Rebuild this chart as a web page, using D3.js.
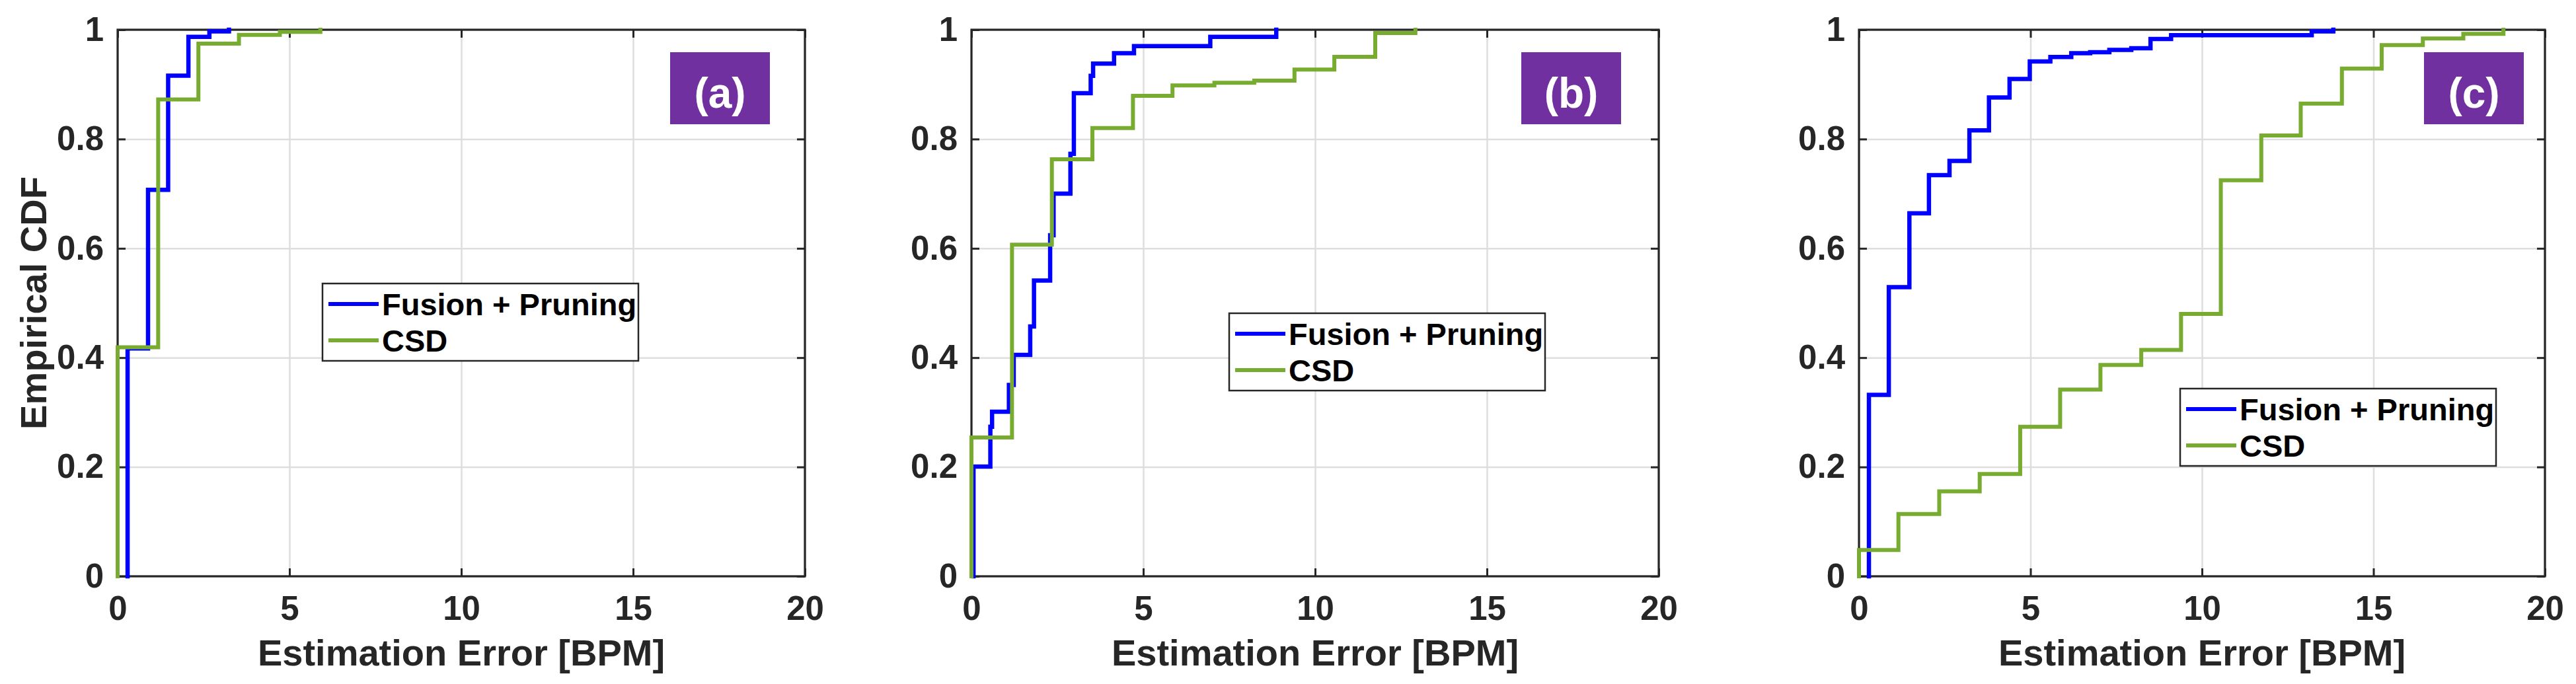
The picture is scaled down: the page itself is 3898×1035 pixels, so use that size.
<!DOCTYPE html>
<html>
<head>
<meta charset="utf-8">
<script src="https://cdn.jsdelivr.net/npm/d3@7"></script>
<style>
  html, body { margin: 0; padding: 0; background: #ffffff; }
  svg { display: block; }
  text { font-family: "Liberation Sans", Arial, sans-serif; font-weight: bold; }
</style>
</head>
<body>
<svg id="chart" width="3898" height="1035"></svg>
<script>
// ---------------- DATA ----------------
const xTicks = [0, 5, 10, 15, 20];
const yTicks = [0, 0.2, 0.4, 0.6, 0.8, 1];
const yTickLabels = ["0", "0.2", "0.4", "0.6", "0.8", "1"];
const panelLabels = ["(a)", "(b)", "(c)"];
const seriesNames = ["Fusion + Pruning", "CSD"];
const xAxisTitle = "Estimation Error [BPM]";
const yAxisTitle = "Empirical CDF";

// Panel (a) — empirical CDF step points (error value, cumulative probability)
const fusionA_x = [0.29, 0.29, 0.885, 1.47, 2.06, 2.67, 3.24];
const fusionA_p = [0, 0.417, 0.707, 0.916, 0.987, 0.997, 1.0];
const csdA_x = [0, 0, 1.18, 2.35, 3.53, 4.72, 5.9];
const csdA_p = [0, 0.419, 0.8725, 0.9746, 0.9905, 0.996, 1.0];

// Panel (b)
const fusionB_x = [0.06, 0.06, 0.55, 0.6, 1.09, 1.23, 1.71, 1.82, 2.29, 2.39, 2.88, 2.98, 3.47, 3.54, 4.15, 4.73, 6.95, 8.87];
const fusionB_p = [0, 0.2007, 0.2735, 0.301, 0.35, 0.405, 0.457, 0.541, 0.624, 0.70, 0.773, 0.884, 0.9156, 0.938, 0.957, 0.97, 0.987, 1.0];
const csdB_x = [0, 0, 1.18, 2.34, 3.52, 4.70, 5.85, 7.07, 8.23, 9.40, 10.56, 11.75, 12.92];
const csdB_p = [0, 0.254, 0.6066, 0.763, 0.820, 0.879, 0.898, 0.903, 0.907, 0.927, 0.9505, 0.994, 1.0];

// Panel (c)
const fusionC_x = [0.29, 0.29, 0.87, 1.47, 2.04, 2.64, 3.22, 3.79, 4.39, 4.98, 5.58, 6.19, 6.74, 7.30, 7.94, 8.5, 9.1, 13.2, 13.83];
const fusionC_p = [0, 0.332, 0.529, 0.664, 0.734, 0.760, 0.816, 0.876, 0.910, 0.942, 0.950, 0.957, 0.959, 0.963, 0.966, 0.983, 0.990, 0.997, 1.0];
const csdC_x = [0, 0, 1.15, 2.34, 3.52, 4.70, 5.865, 7.04, 8.23, 9.39, 10.55, 11.73, 12.88, 14.08, 15.24, 16.44, 17.62, 18.79];
const csdC_p = [0, 0.048, 0.114, 0.1555, 0.187, 0.2735, 0.3415, 0.3867, 0.414, 0.480, 0.7245, 0.8065, 0.865, 0.929, 0.972, 0.984, 0.9925, 1.0];

const fusionX = [fusionA_x, fusionB_x, fusionC_x];
const fusionP = [fusionA_p, fusionB_p, fusionC_p];
const csdX = [csdA_x, csdB_x, csdC_x];
const csdP = [csdA_p, csdB_p, csdC_p];

// ---------------- LAYOUT / STYLE ----------------
const seriesColors = ["#0000ff", "#77ac30"];
const seriesWidths = [6.5, 6];
const axisColor = "#262626";
const gridColor = "#dedede";

const plotTop = 45, plotBottom = 872;
const panels = [
  { left: 178, right: 1218, legend: { x: 488, y: 429 }, tag: { x: 1014, y: 79 }, ylabel: true },
  { left: 1470, right: 2510, legend: { x: 1860, y: 474 }, tag: { x: 2302, y: 79 }, ylabel: false },
  { left: 2813, right: 3851, legend: { x: 3299, y: 588 }, tag: { x: 3668, y: 79 }, ylabel: false }
];

const svg = d3.select("#chart");

panels.forEach((pn, i) => {
  const w = pn.right - pn.left, h = plotBottom - plotTop;
  const x = d3.scaleLinear().domain([0, 20]).range([0, w]);
  const y = d3.scaleLinear().domain([0, 1]).range([h, 0]);
  const g = svg.append("g").attr("transform", `translate(${pn.left},${plotTop})`);

  // grid
  const gx = g.append("g").attr("transform", `translate(0,${h})`)
    .call(d3.axisBottom(x).tickValues(xTicks).tickSize(-h).tickFormat(""));
  const gy = g.append("g")
    .call(d3.axisLeft(y).tickValues(yTicks).tickSize(-w).tickFormat(""));
  [gx, gy].forEach(a => {
    a.select(".domain").remove();
    a.selectAll("line").attr("stroke", gridColor).attr("stroke-width", 2.5);
  });

  // axes with inward ticks
  const bottom = g.append("g").attr("transform", `translate(0,${h})`)
    .call(d3.axisBottom(x).tickValues(xTicks).tickSize(-12).tickPadding(29.5).tickFormat(d3.format("d")));
  const left = g.append("g")
    .call(d3.axisLeft(y).tickValues(yTicks).tickSize(-12).tickPadding(21).tickFormat((d, k) => yTickLabels[k]));
  const top = g.append("g")
    .call(d3.axisTop(x).tickValues(xTicks).tickSize(-12).tickFormat(""));
  const right = g.append("g").attr("transform", `translate(${w},0)`)
    .call(d3.axisRight(y).tickValues(yTicks).tickSize(-12).tickFormat(""));
  [bottom, left, top, right].forEach(a => {
    a.select(".domain").remove();
    a.selectAll("line").attr("stroke", axisColor).attr("stroke-width", 3);
    a.selectAll("text").attr("fill", axisColor).attr("font-size", 51)
      .attr("font-family", '"Liberation Sans", Arial, sans-serif').attr("font-weight", "bold");
  });

  // frame
  g.append("rect").attr("x", 0).attr("y", 0).attr("width", w).attr("height", h)
    .attr("fill", "none").attr("stroke", axisColor).attr("stroke-width", 3.2);

  // curves
  const line = d3.line().curve(d3.curveStepAfter).x(d => x(d[0])).y(d => y(d[1]));
  const series = [
    d3.zip(fusionX[i], fusionP[i]),
    d3.zip(csdX[i], csdP[i])
  ];
  series.forEach((s, k) => {
    g.append("path").datum(s).attr("d", line)
      .attr("fill", "none").attr("stroke", seriesColors[k])
      .attr("stroke-width", seriesWidths[k]).attr("stroke-linejoin", "miter")
      .attr("stroke-linecap", "square");
  });

  // x axis title
  svg.append("text").attr("x", (pn.left + pn.right) / 2).attr("y", 1007)
    .attr("text-anchor", "middle").attr("font-size", 56).attr("fill", axisColor)
    .text(xAxisTitle);

  // y axis title
  if (pn.ylabel) {
    svg.append("text").attr("transform", `translate(70,${(plotTop + plotBottom) / 2}) rotate(-90)`)
      .attr("text-anchor", "middle").attr("font-size", 56).attr("fill", axisColor)
      .text(yAxisTitle);
  }

  // legend
  const lg = svg.append("g").attr("transform", `translate(${pn.legend.x},${pn.legend.y})`);
  lg.append("rect").attr("width", 478).attr("height", 117)
    .attr("fill", "#ffffff").attr("stroke", axisColor).attr("stroke-width", 2.5);
  seriesNames.forEach((nm, k) => {
    const cy = 31 + k * 55;
    lg.append("line").attr("x1", 9).attr("x2", 85).attr("y1", cy).attr("y2", cy)
      .attr("stroke", seriesColors[k]).attr("stroke-width", 6);
    lg.append("text").attr("x", 90).attr("y", cy + 17).attr("font-size", 47)
      .attr("fill", "#000000").text(nm);
  });

  // panel tag
  const tg = svg.append("g").attr("transform", `translate(${pn.tag.x},${pn.tag.y})`);
  tg.append("rect").attr("width", 151).attr("height", 109).attr("fill", "#7030a0");
  tg.append("text").attr("x", 75.5).attr("y", 84).attr("text-anchor", "middle")
    .attr("font-family", "Lato, 'Open Sans', sans-serif").attr("font-weight", 900).attr("font-size", 64)
    .attr("fill", "#ffffff").text(panelLabels[i]);
});
</script>
</body>
</html>
